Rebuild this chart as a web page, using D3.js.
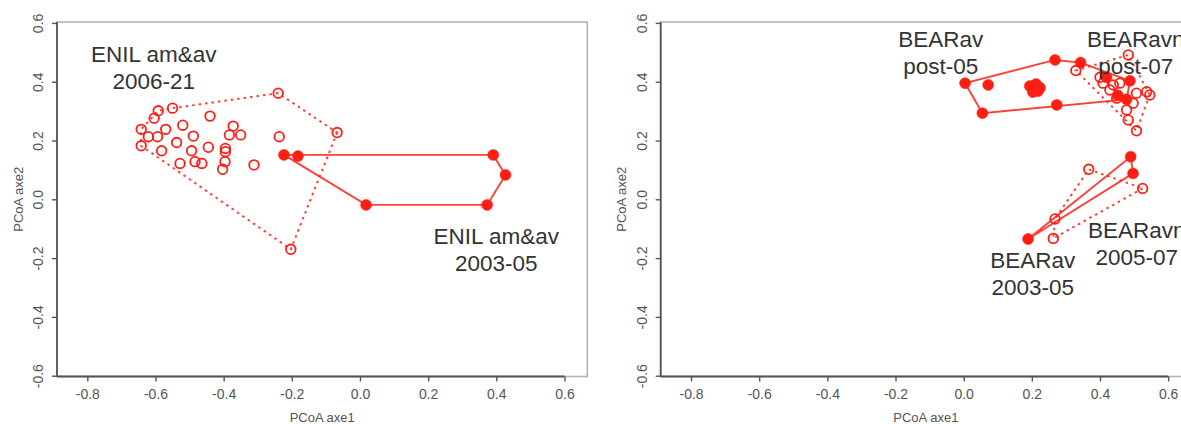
<!DOCTYPE html>
<html>
<head>
<meta charset="utf-8">
<script src="https://cdn.jsdelivr.net/npm/d3@7"></script>
<style>
  html, body { margin: 0; padding: 0; background: #fff; }
  svg { display: block; font-family: "Liberation Sans", Arial, sans-serif; }
</style>
</head>
<body>
<svg id="chart" width="1181" height="424"></svg>
<script>
// ---------------- data ----------------
const xTicks = [-0.8, -0.6, -0.4, -0.2, 0.0, 0.2, 0.4, 0.6];
const yTicks = [-0.6, -0.4, -0.2, 0.0, 0.2, 0.4, 0.6];
const xTitle = "PCoA axe1";
const yTitle = "PCoA axe2";

// Left panel: ENIL am&av 2006-21 (open circles, dotted hull)
const enilPostX = [-0.240,-0.550,-0.592,-0.604,-0.440,-0.642,-0.570,-0.520,-0.372,-0.621,-0.594,-0.489,-0.383,-0.350,-0.237,-0.642,-0.538,-0.445,-0.395,-0.582,-0.494,-0.395,-0.484,-0.464,-0.528,-0.396,-0.403,-0.311,-0.067,-0.203];
const enilPostY = [0.361,0.310,0.301,0.276,0.283,0.238,0.238,0.252,0.249,0.213,0.213,0.215,0.219,0.219,0.213,0.182,0.193,0.177,0.173,0.165,0.165,0.162,0.128,0.122,0.122,0.128,0.102,0.117,0.227,-0.170];
// Left panel: ENIL am&av 2003-05 (filled, solid hull)
const enilPreX = [-0.223,-0.182,0.391,0.427,0.373,0.018];
const enilPreY = [0.151,0.147,0.151,0.083,-0.019,-0.019];

// Right panel: BEARav post-05 (filled, solid hull)
const bearPostX = [0.004,0.072,0.268,0.343,0.273,0.055,0.194,0.212,0.224,0.203,0.218,0.419,0.488,0.478,0.452];
const bearPostY = [0.395,0.389,0.474,0.465,0.321,0.293,0.385,0.392,0.379,0.365,0.368,0.415,0.403,0.340,0.354];
// Right panel: BEARavn post-07 (open, dotted hull)
const bearnPostX = [0.483,0.329,0.409,0.458,0.537,0.546,0.507,0.449,0.497,0.478,0.483,0.507,0.400,0.439,0.429];
const bearnPostY = [0.491,0.438,0.395,0.395,0.366,0.355,0.361,0.344,0.327,0.304,0.270,0.233,0.415,0.389,0.372];
// Right panel: BEARav 2003-05 (filled, solid hull)
const bearPreX = [0.189,0.490,0.497];
const bearPreY = [-0.135,0.145,0.088];
// Right panel: BEARavn 2005-07 (open, dotted hull)
const bearnPreX = [0.367,0.525,0.268,0.263];
const bearnPreY = [0.102,0.037,-0.067,-0.133];

// Group labels (lines, anchor in data units)
const leftLabels = [
  { lines: ["ENIL am&av", "2006-21"], x: -0.605, y: 0.448 },
  { lines: ["ENIL am&av", "2003-05"], x: 0.400, y: -0.172 }
];
const rightLabels = [
  { lines: ["BEARav", "post-05"], x: -0.067, y: 0.499 },
  { lines: ["BEARavn", "post-07"], x: 0.505, y: 0.499 },
  { lines: ["BEARav", "2003-05"], x: 0.203, y: -0.252 },
  { lines: ["BEARavn", "2005-07"], x: 0.508, y: -0.152 }
];

// ---------------- drawing ----------------
const RED = "#ff1e14";
const svg = d3.select("#chart");
svg.append("rect").attr("width", 1181).attr("height", 424).attr("fill", "#fff");

const xDomain = [-0.889, 0.667];
const yDomain = [-0.6, 0.6];

function zip(xs, ys) { return xs.map((v, i) => [v, ys[i]]); }

function panel(left, groups, labels) {
  const width = 530.3;
  const x = d3.scaleLinear().domain(xDomain).range([left, left + width]);
  const y = d3.scaleLinear().domain(yDomain).range([375.7, 22.9]);
  const top = 22, bottom = 376.5;
  const g = svg.append("g");

  // box (light)
  g.append("rect").attr("x", left).attr("y", top)
    .attr("width", width).attr("height", bottom - top)
    .attr("fill", "none").attr("stroke", "#b4b4b4").attr("stroke-width", 1.6);

  // x axis
  const xa = g.append("g").attr("transform", `translate(0,${bottom})`)
    .call(d3.axisBottom(x).tickValues(xTicks).tickSize(5).tickPadding(8)
      .tickFormat(d => d.toFixed(1)));
  xa.select(".domain").remove();
  xa.append("line").attr("x1", left).attr("x2", x(0.6)).attr("y1", 0).attr("y2", 0)
    .attr("stroke", "#555").attr("stroke-width", 1.8);
  xa.selectAll(".tick line").attr("stroke", "#555").attr("stroke-width", 1.4);
  xa.selectAll(".tick text").attr("fill", "#555").attr("font-size", 14)
    .attr("font-family", "Liberation Sans, Arial, sans-serif");

  // y axis
  const ya = g.append("g").attr("transform", `translate(${left},0)`)
    .call(d3.axisLeft(y).tickValues(yTicks).tickSize(5).tickFormat(d => d.toFixed(1)));
  ya.select(".domain").remove();
  ya.append("line").attr("x1", 0).attr("x2", 0).attr("y1", top).attr("y2", bottom)
    .attr("stroke", "#555").attr("stroke-width", 1.8);
  ya.selectAll(".tick line").attr("stroke", "#555").attr("stroke-width", 1.4);
  ya.selectAll(".tick text")
    .attr("fill", "#555").attr("font-size", 14)
    .attr("font-family", "Liberation Sans, Arial, sans-serif")
    .attr("transform", "rotate(-90)")
    .attr("x", 0).attr("y", -19).attr("dy", "0.35em")
    .attr("text-anchor", "middle");

  // titles
  g.append("text").attr("x", left + width / 2).attr("y", 417).attr("dy", "0.35em")
    .attr("text-anchor", "middle").attr("font-size", 13).attr("fill", "#555").text(xTitle);
  g.append("text").attr("transform", `translate(${left - 39},${(top + bottom) / 2}) rotate(-90)`)
    .attr("dy", "0.35em").attr("text-anchor", "middle")
    .attr("font-size", 13).attr("fill", "#555").text(yTitle);

  // groups
  const line = d3.line().x(d => x(d[0])).y(d => y(d[1]));
  groups.forEach(gr => {
    const pts = zip(gr.xs, gr.ys);
    const hull = d3.polygonHull(pts);
    g.append("path").attr("d", line(hull) + "Z")
      .attr("fill", "none").attr("stroke", RED).attr("stroke-opacity", 0.85)
      .attr("stroke-width", gr.filled ? 1.9 : 2.0)
      .attr("stroke-dasharray", gr.filled ? null : "2.5,4")
      .attr("stroke-linecap", gr.filled ? "round" : "butt");
    g.selectAll(null).data(pts).join("circle")
      .attr("cx", d => x(d[0])).attr("cy", d => y(d[1]))
      .attr("r", gr.filled ? 5.5 : 4.8)
      .attr("fill", gr.filled ? RED : "none")
      .attr("stroke", RED).attr("stroke-width", gr.filled ? 0.5 : 1.8);
  });

  // labels
  labels.forEach(lb => {
    const t = g.append("text").attr("text-anchor", "middle")
      .attr("font-size", 22.5).attr("fill", "#333");
    const n = lb.lines.length, lh = 27;
    lb.lines.forEach((s, i) => {
      t.append("tspan").attr("x", x(lb.x))
        .attr("y", y(lb.y) + (i - (n - 1) / 2) * lh).attr("dy", "0.35em").text(s);
    });
  });
}

panel(57, [
  { xs: enilPostX, ys: enilPostY, filled: false },
  { xs: enilPreX, ys: enilPreY, filled: true }
], leftLabels);

panel(660.7, [
  { xs: bearPostX, ys: bearPostY, filled: true },
  { xs: bearnPostX, ys: bearnPostY, filled: false },
  { xs: bearPreX, ys: bearPreY, filled: true },
  { xs: bearnPreX, ys: bearnPreY, filled: false }
], rightLabels);
</script>
</body>
</html>
